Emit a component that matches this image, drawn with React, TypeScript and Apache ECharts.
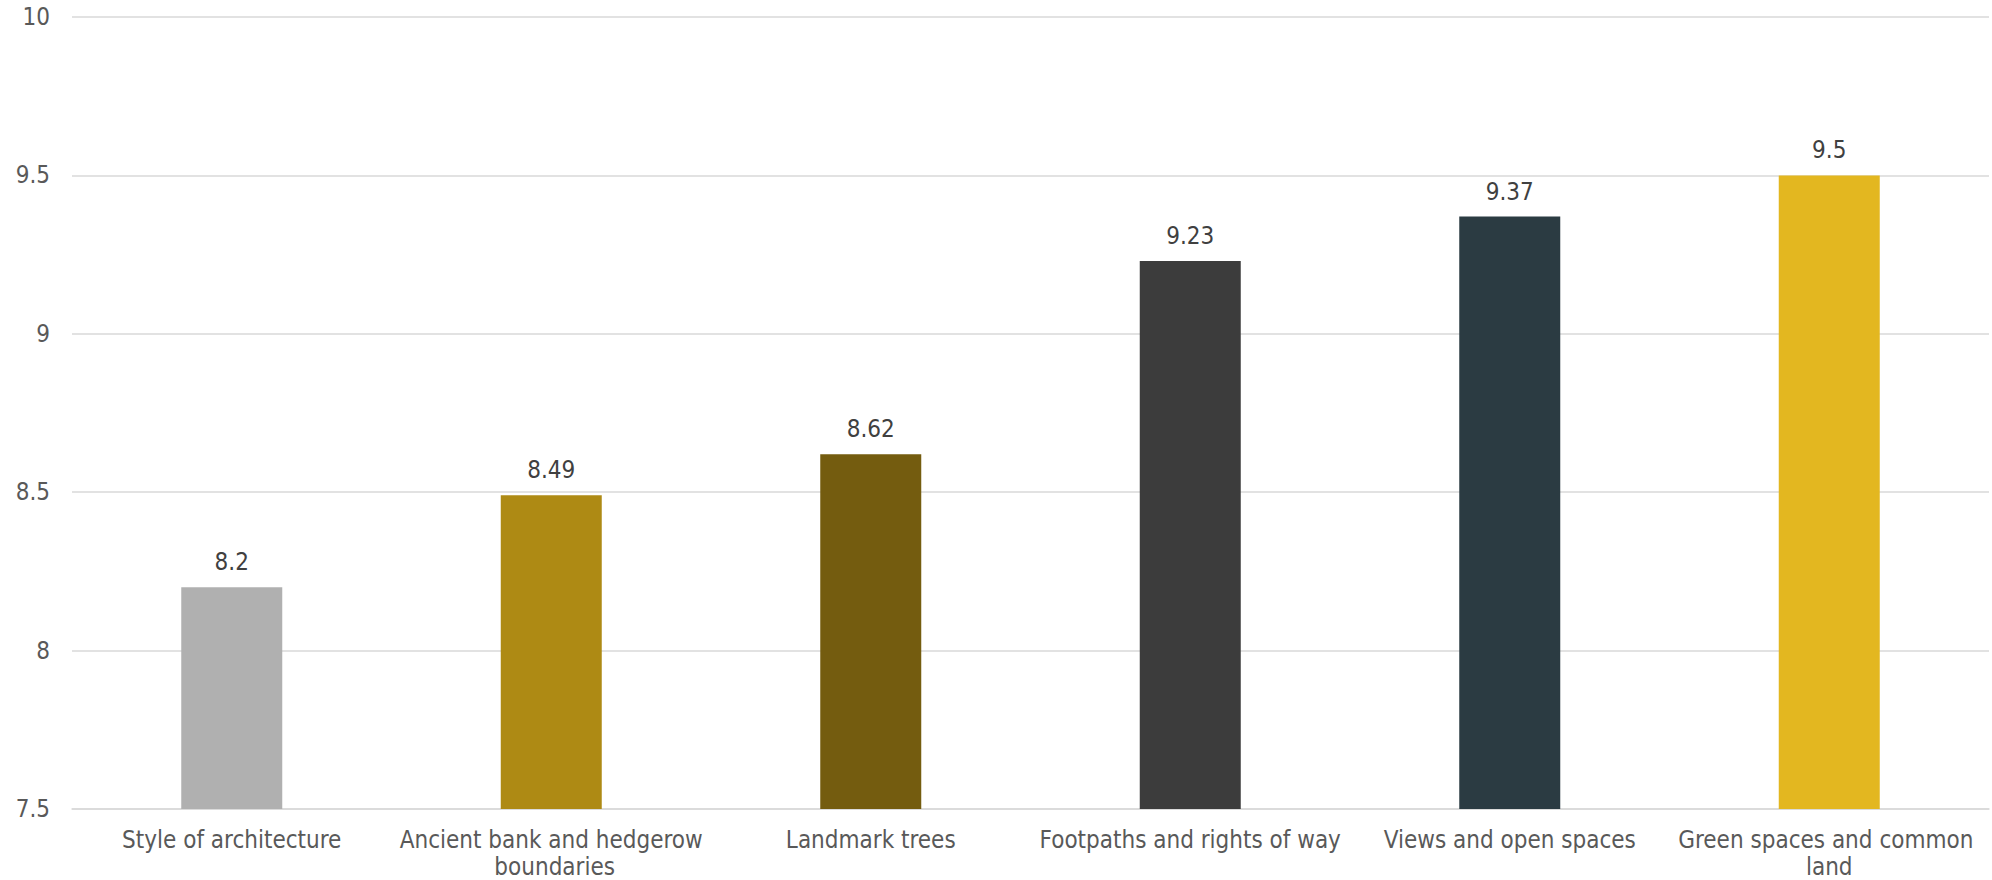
import React, { useEffect, useRef } from "react";
import * as echarts from "echarts";

const categories = [
  "Style of architecture",
  "Ancient bank and hedgerow boundaries",
  "Landmark trees",
  "Footpaths and rights of way",
  "Views and open spaces",
  "Green spaces and common land",
];
const values = [8.2, 8.49, 8.62, 9.23, 9.37, 9.5];
const barColors = ["#B0B0B0", "#AE8A14", "#745C0F", "#3C3C3C", "#2B3B42", "#E3B720"];
const yMin = 7.5;
const yMax = 10;
const yStep = 0.5;

const FONT = "DejaVu Sans Condensed";

export default function App() {
  const ref = useRef<HTMLDivElement>(null);
  useEffect(() => {
    if (!ref.current) return;
    const chart = echarts.init(ref.current, undefined, { renderer: "svg" });
    chart.setOption({
      animation: false,
      backgroundColor: "#ffffff",
      grid: { left: 72, right: 3, top: 17, bottom: 71, containLabel: false },
      xAxis: {
        type: "category",
        data: categories,
        axisTick: { show: false },
        axisLine: { show: true, lineStyle: { color: "#D9D9D9", width: 1.5 } },
        axisLabel: {
          color: "#595959",
          fontFamily: FONT,
          fontSize: 24,
          margin: 17,
          lineHeight: 27,
          width: 310,
          overflow: "break",
          interval: 0,
        },
      },
      yAxis: {
        type: "value",
        min: yMin,
        max: yMax,
        interval: yStep,
        axisLine: { show: false },
        axisTick: { show: false },
        splitLine: { lineStyle: { color: "#D9D9D9", width: 1.5 } },
        axisLabel: {
          color: "#595959",
          fontFamily: FONT,
          fontSize: 24,
          margin: 22,
          formatter: (v: number) => String(v),
        },
      },
      series: [
        {
          type: "bar",
          data: values.map((v, i) => ({ value: v, itemStyle: { color: barColors[i] } })),
          barWidth: 101,
          label: {
            show: true,
            position: "top",
            distance: 13,
            color: "#404040",
            fontFamily: FONT,
            fontSize: 24,
            formatter: (p: any) => String(p.value),
          },
        },
      ],
    });
    return () => chart.dispose();
  }, []);
  return (
    <div
      ref={ref}
      style={{ position: "absolute", left: 0, top: 0, width: 1992, height: 880 }}
    />
  );
}
